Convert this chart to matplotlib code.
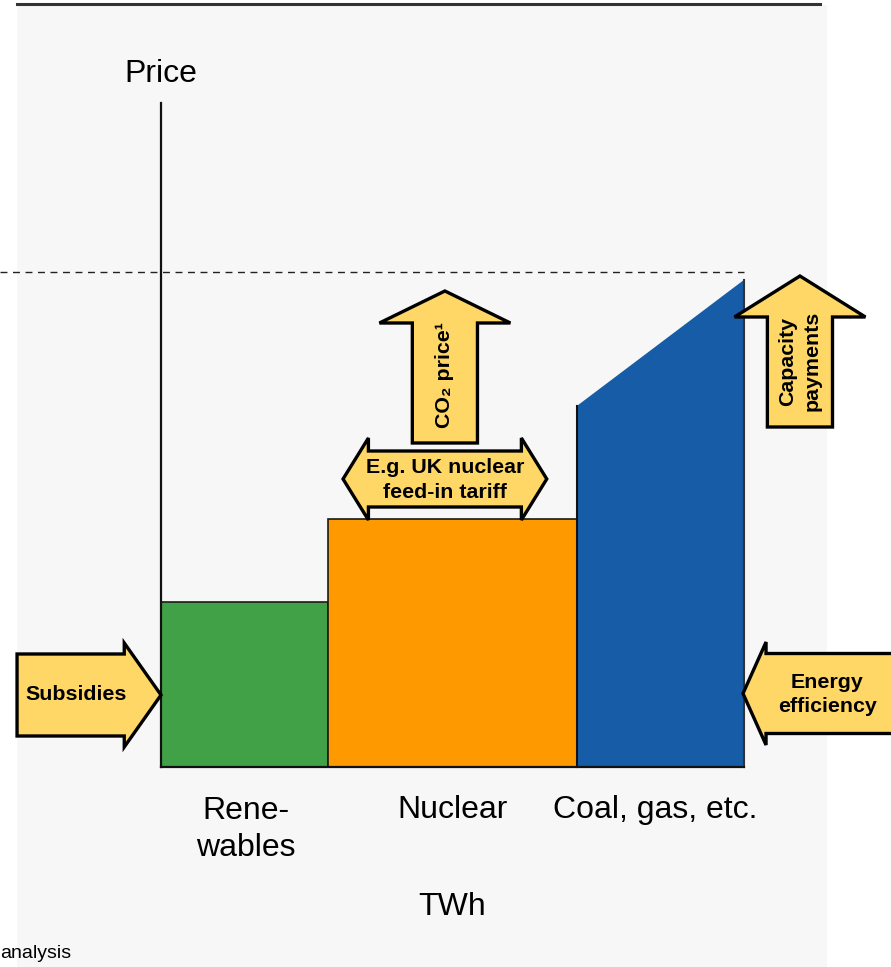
import matplotlib
matplotlib.use("Agg")
import matplotlib.pyplot as plt
from matplotlib.patches import Rectangle, Polygon

plt.rcParams['font.family'] = ['Liberation Sans', 'DejaVu Sans']

# Merit-order data: energy volume (TWh, relative widths) and price levels
categories = ["Rene-\nwables", "Nuclear", "Coal, gas, etc."]
volumes = [1.0, 1.49, 1.0]
price_renewables = 1.65
price_nuclear = 2.48
price_fossil_low = 3.61
price_fossil_high = 4.87
price_cap = 4.95
axis_top = 6.64

colors = ["#41a146", "#fe9a00", "#165ca6"]
arrow_fill = "#fed766"

W, H = 891, 967
fig = plt.figure(figsize=(W / 100, H / 100), dpi=100)
fig.patch.set_facecolor("white")

ax = fig.add_axes([0, 0, 1, 1])
ax.set_facecolor("none")
ax.axis("off")

# light panel behind the chart and rule across the top
ax.add_patch(Rectangle((17 / W, 0), (827 - 17) / W, (H - 5) / H,
                       transform=ax.transAxes, facecolor="#f7f7f7",
                       edgecolor="none", zorder=0))
ax.plot([17 / W, 820 / W], [1 - 4 / H, 1 - 4 / H], transform=ax.transAxes,
        color="#333333", lw=2.2, zorder=1)

xu, yu = 167.0, 100.0          # pixels per data unit
x0, y0 = 161.0, 767.0          # origin position in pixels
ax.set_xlim(-x0 / xu, (W - x0) / xu)
ax.set_ylim(-(H - y0) / yu, y0 / yu)

# bars
lefts = [0.0, volumes[0], volumes[0] + volumes[1]]
ax.bar(lefts[0], price_renewables, width=volumes[0], align="edge",
       color=colors[0], edgecolor="#1a1a1a", lw=1.2, zorder=2)
ax.bar(lefts[1], price_nuclear, width=volumes[1], align="edge",
       color=colors[1], edgecolor="#1a1a1a", lw=1.2, zorder=2)
xf0, xf1 = lefts[2], lefts[2] + volumes[2]
ax.fill([xf0, xf0, xf1, xf1], [0, price_fossil_low, price_fossil_high, 0],
        color=colors[2], lw=0, zorder=2)
ax.plot([xf0, xf0], [0, price_fossil_low], color="#111111", lw=1.5, zorder=3)
ax.plot([xf1, xf1], [0, price_fossil_high], color="#333333", lw=1.5, zorder=3)

# axes lines
ax.plot([0, 0], [0, axis_top], color="#111111", lw=1.6, zorder=4)
ax.plot([0, xf1], [0, 0], color="#111111", lw=1.6, zorder=4)
ax.plot([-x0 / xu, xf1], [price_cap, price_cap], color="#222222", lw=1.0,
        dashes=(5, 4), zorder=1)


def draw_poly(pts):
    ax.add_patch(Polygon(pts, closed=True, facecolor=arrow_fill,
                         edgecolor="black", lw=2.4, joinstyle="miter",
                         zorder=5, clip_on=False))


def h_arrow(tail, tip, yc, body, head, head_len):
    s = 1 if tip > tail else -1
    base = tip - s * head_len
    draw_poly([(tail, yc - body), (base, yc - body), (base, yc - head),
               (tip, yc), (base, yc + head), (base, yc + body),
               (tail, yc + body)])


def v_arrow(xc, tail, tip, body, head, head_len):
    base = tip - head_len
    draw_poly([(xc - body, tail), (xc - body, base), (xc - head, base),
               (xc, tip), (xc + head, base), (xc + body, base),
               (xc + body, tail)])


def double_h_arrow(left, right, yc, body, head, head_len):
    lb, rb = left + head_len, right - head_len
    draw_poly([(left, yc), (lb, yc + head), (lb, yc + body), (rb, yc + body),
               (rb, yc + head), (right, yc), (rb, yc - head), (rb, yc - body),
               (lb, yc - body), (lb, yc - head)])


bold = dict(fontsize=15.4, fontweight="bold", color="black", zorder=6,
            ha="center", va="center", linespacing=1.4)

# Subsidies arrow pointing into the renewables bar
h_arrow(-0.862, 0.0, 0.72, 0.41, 0.52, 0.22)
ax.text(-0.51, 0.72, "Subsidies", **bold)

# Energy efficiency arrow pointing into the fossil bar
h_arrow(4.5, xf1 - 0.005, 0.735, 0.40, 0.515, 0.138)
ax.text(3.99, 0.725, "Energy\nefficiency", **bold)

# CO2 price arrow
v_arrow(1.70, 3.24, 4.76, 0.195, 0.392, 0.32)
ax.text(1.70, 3.92, "CO\u2082 price\u00b9", rotation=90, **bold)

# nuclear feed-in tariff double arrow
double_h_arrow(1.09, 2.31, 2.88, 0.28, 0.41, 0.152)
ax.text(1.70, 2.87, "E.g. UK nuclear\nfeed-in tariff", **bold)

# capacity payments arrow
v_arrow(3.826, 3.40, 4.91, 0.195, 0.392, 0.41)
ax.text(3.826, 4.06, "Capacity\npayments", rotation=90, **bold)

# labels
big = dict(fontsize=23, color="black", ha="center", va="center")
ax.text(0, 6.93, "Price", **big)
centers = [l + w / 2 for l, w in zip(lefts, volumes)]
ax.text(centers[0] + 0.01, -0.625, categories[0], linespacing=1.3, **big)
ax.text(centers[1], -0.43, categories[1], **big)
ax.text(centers[2] - 0.03, -0.43, categories[2], **big)
ax.text(centers[1], -1.40, "TWh", **big)
ax.text(-x0 / xu, -1.86, "analysis", fontsize=14, ha="left", va="center")

fig.savefig("out.png", dpi=100, facecolor="white")
